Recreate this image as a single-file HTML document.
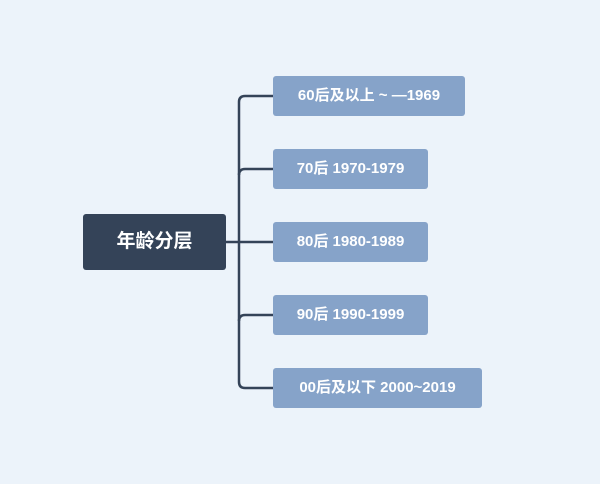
<html><head><style>
body{margin:0;width:600px;height:484px;background:#ecf3fa;position:relative;overflow:hidden;font-family:"Liberation Sans","Noto Sans CJK SC",sans-serif}
.b{position:absolute;background:#86a3c9;color:#fff;border-radius:3px;font-size:15px;font-weight:bold;line-height:40px;height:40px;text-align:center}
.r{position:absolute;left:83px;top:214px;width:143px;height:56px;background:#344358;border-radius:3px;color:#fff;font-size:19px;font-weight:bold;line-height:56px;text-align:center}
</style></head><body>
<svg width="600" height="484" style="position:absolute;left:0;top:0">
<g fill="none" stroke="#344358" stroke-width="2.5">
<path d="M226 242H273"/>
<path d="M273 96H245Q239 96 239 102V382Q239 388 245 388H273"/>
<path d="M239 175Q239 169 245 169H273"/>
<path d="M239 321Q239 315 245 315H273"/>
</g></svg>
<div class="r">年龄分层</div>
<div class="b" style="left:273px;top:76px;width:192px">60后及以上 ~ —1969</div>
<div class="b" style="left:273px;top:149px;width:155px">70后 1970-1979</div>
<div class="b" style="left:273px;top:222px;width:155px">80后 1980-1989</div>
<div class="b" style="left:273px;top:295px;width:155px">90后 1990-1999</div>
<div class="b" style="left:273px;top:368px;width:209px">00后及以下 2000~2019</div>
</body></html>
